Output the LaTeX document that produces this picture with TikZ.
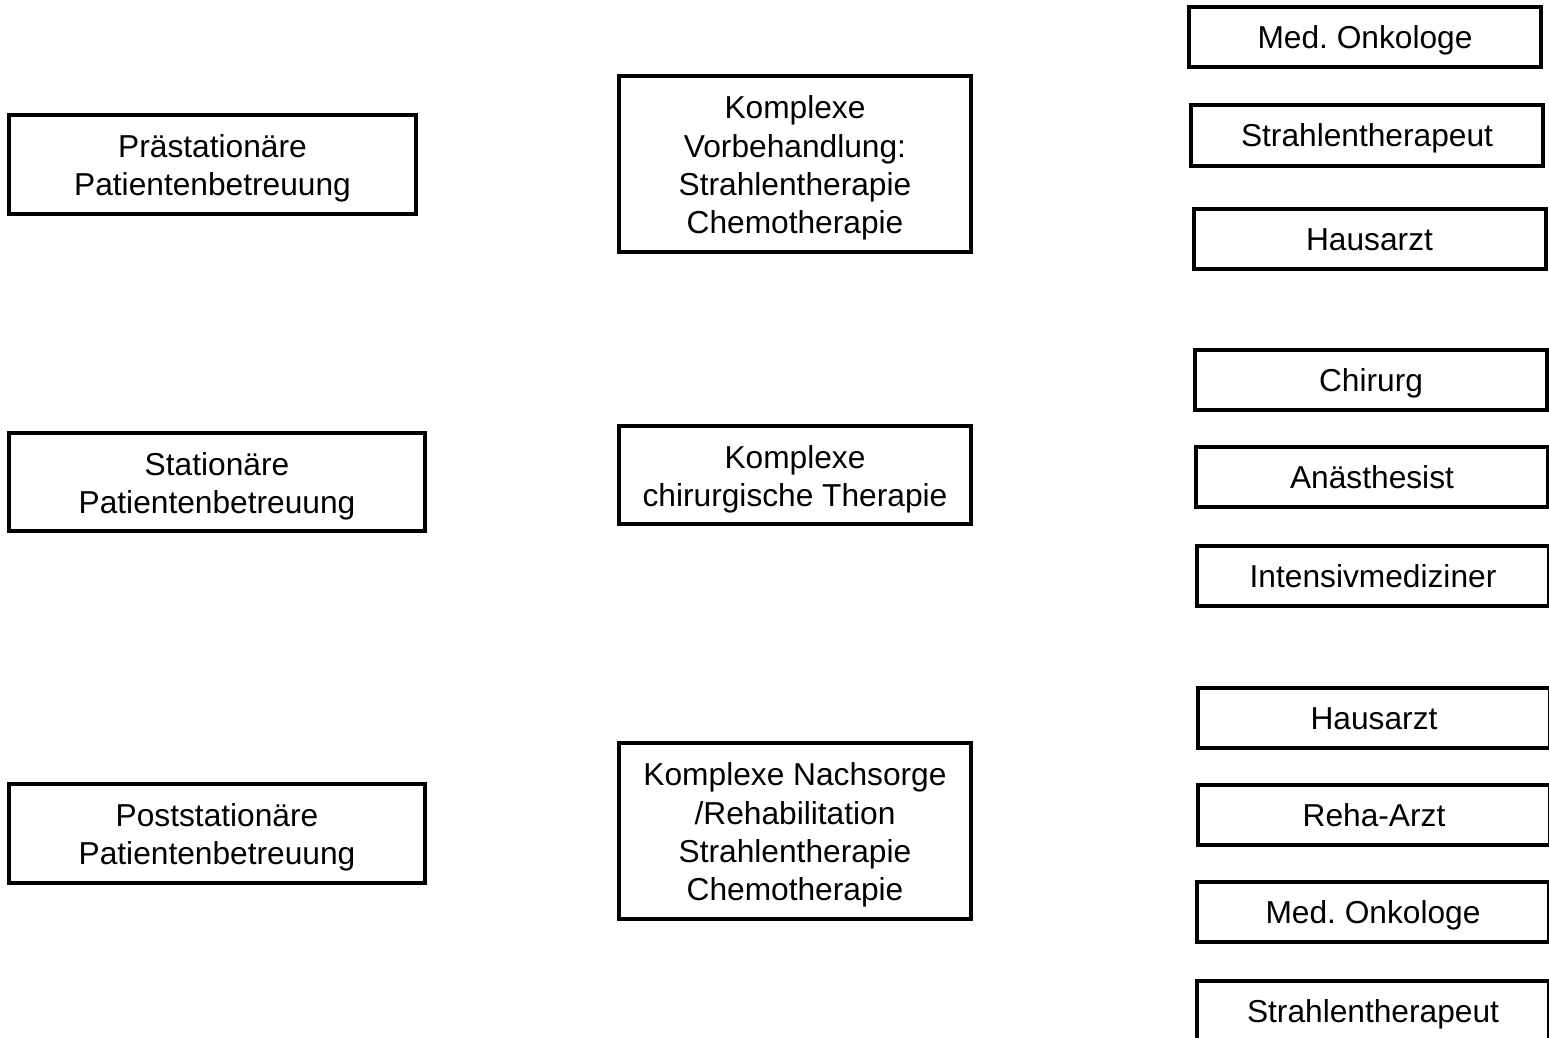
\documentclass[tikz,border=0pt]{standalone}
\usepackage{fontspec}
\setmainfont{Liberation Sans}
\frenchspacing
\newcommand\bstrut{\rule[-7pt]{0pt}{36pt}}
\newcommand\topstrut{\rule{0pt}{31pt}}
\begin{document}
\begin{tikzpicture}[x=1pt,y=-1pt,
  box/.style={draw=black, line width=4pt, fill=white, align=center, inner sep=0pt,
    font=\fontsize{31.7}{38.3}\selectfont},
  sbox/.style={box, minimum width=352pt, minimum height=60pt,
    execute at begin node=\bstrut}]
\useasboundingbox (0,0) rectangle (1549,1038);
\clip (0,0) rectangle (1549,1038);
\fill[white] (0,0) rectangle (1549,1038);
% left column
\node[box, minimum width=407pt, minimum height=99pt] (l1) at (212.5,164.5) {\topstrut Prästationäre\\Patientenbetreuung};
\node[box, minimum width=416pt, minimum height=98pt] (l2) at (217,482) {\topstrut Stationäre\\Patientenbetreuung};
\node[box, minimum width=416pt, minimum height=99pt] (l3) at (217,833.5) {\topstrut Poststationäre\\Patientenbetreuung};
% middle column
\node[box, minimum width=352pt, minimum height=176pt] (m1) at (795,164) {\topstrut Komplexe\\Vorbehandlung:\\Strahlentherapie\\Chemotherapie};
\node[box, minimum width=352pt, minimum height=98pt] (m2) at (795,475) {\topstrut Komplexe\\chirurgische Therapie};
\node[box, minimum width=352pt, minimum height=176pt] (m3) at (795,831) {\topstrut Komplexe Nachsorge\\/Rehabilitation\\Strahlentherapie\\Chemotherapie};
% right column
\node[sbox] (r1) at (1365,37.5) {Med. Onkologe};
\node[sbox] (r2) at (1367,135.5) {Strahlentherapeut};
\node[sbox] (r3) at (1369.5,239) {Hausarzt};
\node[sbox] (r4) at (1371,380) {Chirurg};
\node[sbox] (r5) at (1372,477) {Anästhesist};
\node[sbox] (r6) at (1373,576) {Intensivmediziner};
\node[sbox] (r7) at (1374,718) {Hausarzt};
\node[sbox] (r8) at (1374,815) {Reha-Arzt};
\node[sbox] (r9) at (1373,912) {Med. Onkologe};
\node[sbox] (r10) at (1373,1011) {Strahlentherapeut};
\end{tikzpicture}
\end{document}
